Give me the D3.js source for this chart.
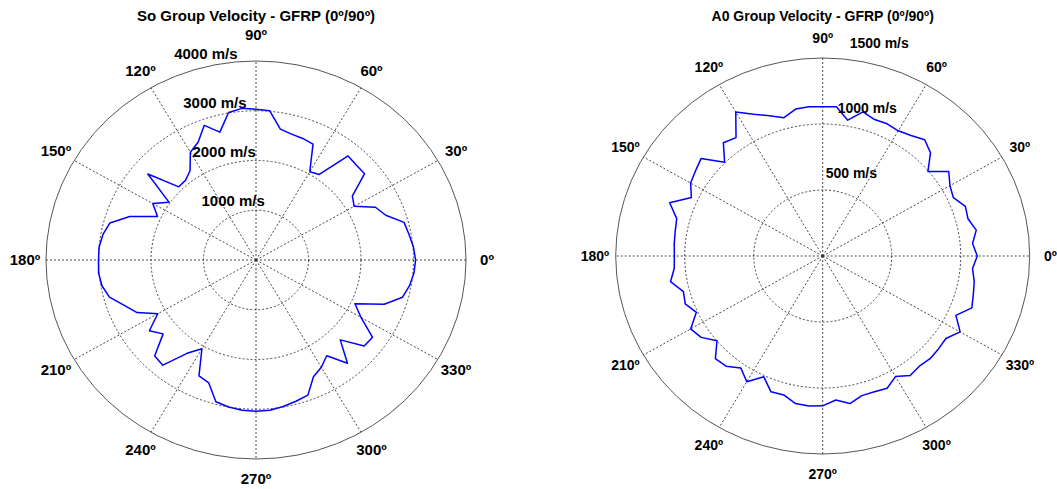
<!DOCTYPE html>
<html>
<head>
<meta charset="utf-8">
<script src="https://cdn.jsdelivr.net/npm/d3@7"></script>
<style>
  body { margin: 0; background: #fff; }
  text { font-family: "Liberation Sans", Arial, Helvetica, sans-serif; font-weight: bold; fill: #000; }
</style>
</head>
<body>
<svg id="chart" width="1057" height="489"></svg>
<script>
// Propagation angle of each sample, degrees
const angleDeg = d3.range(0, 360, 5);

// S0 mode group velocity (m/s) at each angle
const s0Velocity = [
  3040, 3010, 2960, 2920, 2630, 2510, 2160, 2240, 2700, 2700, 2730, 2100,
  2050, 2570, 2600, 2620, 2670, 3010, 3030, 3060, 3010, 2660, 2880, 2610,
  2500, 2190, 2090, 2080, 2690, 2020, 2270, 2070, 2560, 2880, 2960, 3000,
  3000, 3010, 2980, 2890, 2670, 2500, 2160, 2480, 2310, 2730, 2760, 2290,
  2060, 2570, 2630, 2950, 3000, 3030, 3040, 3030, 2990, 2940, 2890, 2590,
  2490, 2350, 2710, 2270, 2690, 2710, 2310, 2080, 2600, 2890, 2970, 3020
];

// A0 mode group velocity (m/s) at each angle
const a0Velocity = [
  1120, 1090, 1130, 1090, 1100, 1045, 1065, 1115, 995, 1105, 1150, 1115,
  1095, 1105, 1100, 1130, 1045, 1135, 1130, 1135, 1130, 1085, 1130, 1185,
  1260, 1095, 1120, 1005, 1150, 1125, 1105, 1050, 1180, 1095, 1085, 1080,
  1075, 1080, 1120, 1045, 1060, 1010, 1105, 1075, 1000, 1100, 1090, 1035,
  1100, 1010, 1095, 1090, 1135, 1140, 1135, 1095, 1135, 1095, 1095, 1105,
  1055, 1105, 1090, 1100, 1095, 1090, 1150, 1065, 1150, 1130, 1115, 1090
];

// Spoke angles and their labels
const spokeAngles = [0, 30, 60, 90, 120, 150, 180, 210, 240, 270, 300, 330];

// Radial ticks (m/s); the last one is the outer boundary
const s0RingTicks = [1000, 2000, 3000, 4000];
const a0RingTicks = [500, 1000, 1500];

const s0Title = "So Group Velocity - GFRP (0º/90º)";
const a0Title = "A0 Group Velocity - GFRP (0º/90º)";

const svg = d3.select("#chart");

function drawPolar(p) {
  const g = svg.append("g");
  const vmax = d3.max(p.ticks);
  const rX = d3.scaleLinear().domain([0, vmax]).range([0, p.rx]);
  const rY = d3.scaleLinear().domain([0, vmax]).range([0, p.ry]);
  const rad = d => d * Math.PI / 180;
  const px = (a, v) => p.cx + rX(v) * Math.cos(rad(a));
  const py = (a, v) => p.cy - rY(v) * Math.sin(rad(a));

  // outer boundary
  g.append("ellipse")
    .attr("cx", p.cx).attr("cy", p.cy)
    .attr("rx", rX(vmax)).attr("ry", rY(vmax))
    .attr("fill", "none").attr("stroke", "#555").attr("stroke-width", 1);

  // dotted inner rings
  g.selectAll("ellipse.ring")
    .data(p.ticks.slice(0, -1))
    .join("ellipse")
    .attr("class", "ring")
    .attr("cx", p.cx).attr("cy", p.cy)
    .attr("rx", d => rX(d)).attr("ry", d => rY(d))
    .attr("fill", "none").attr("stroke", "#333")
    .attr("stroke-width", 0.9).attr("stroke-dasharray", "2,2");

  // dotted spokes
  g.selectAll("line.spoke")
    .data(spokeAngles)
    .join("line")
    .attr("class", "spoke")
    .attr("x1", p.cx).attr("y1", p.cy)
    .attr("x2", d => px(d, vmax)).attr("y2", d => py(d, vmax))
    .attr("stroke", "#333").attr("stroke-width", 0.9)
    .attr("stroke-dasharray", "2,2");

  // velocity curve
  const pts = angleDeg.map((a, i) => [px(a, p.values[i]), py(a, p.values[i])]);
  g.append("path")
    .attr("d", d3.line().curve(d3.curveLinearClosed)(pts))
    .attr("fill", "none").attr("stroke", "#0000ff")
    .attr("stroke-width", 1.5).attr("stroke-linejoin", "round");

  // angle labels (the top one can sit a little higher to clear the ring labels)
  g.selectAll("text.ang")
    .data(spokeAngles)
    .join("text")
    .attr("class", "ang")
    .attr("x", d => px(d, vmax * 1.1))
    .attr("y", d => py(d, vmax * 1.1) - (d === 90 ? p.topLift : 0))
    .attr("dy", "0.36em")
    .attr("text-anchor", "middle")
    .style("font-size", p.font + "px")
    .text(d => d + "º");

  // ring value labels
  g.selectAll("text.rlab")
    .data(p.ticks)
    .join("text")
    .attr("class", "rlab")
    .attr("x", d => px(p.labelAngle, d) + p.labelDx)
    .attr("y", d => py(p.labelAngle, d) + p.labelDy)
    .attr("text-anchor", p.labelAnchor)
    .style("font-size", p.font + "px")
    .text(d => d + " m/s");

  // title
  g.append("text")
    .attr("x", p.cx).attr("y", 21)
    .attr("text-anchor", "middle")
    .style("font-size", p.font + "px")
    .text(p.title);
}

drawPolar({
  cx: 256, cy: 260, rx: 210, ry: 199, font: 15, topLift: 7,
  ticks: s0RingTicks, values: s0Velocity, title: s0Title,
  labelAngle: 100, labelAnchor: "end", labelDx: 18, labelDy: -5
});

drawPolar({
  cx: 822.7, cy: 256, rx: 207, ry: 198, font: 14, topLift: 0,
  ticks: a0RingTicks, values: a0Velocity, title: a0Title,
  labelAngle: 80, labelAnchor: "start", labelDx: -9, labelDy: -13
});
</script>
</body>
</html>
